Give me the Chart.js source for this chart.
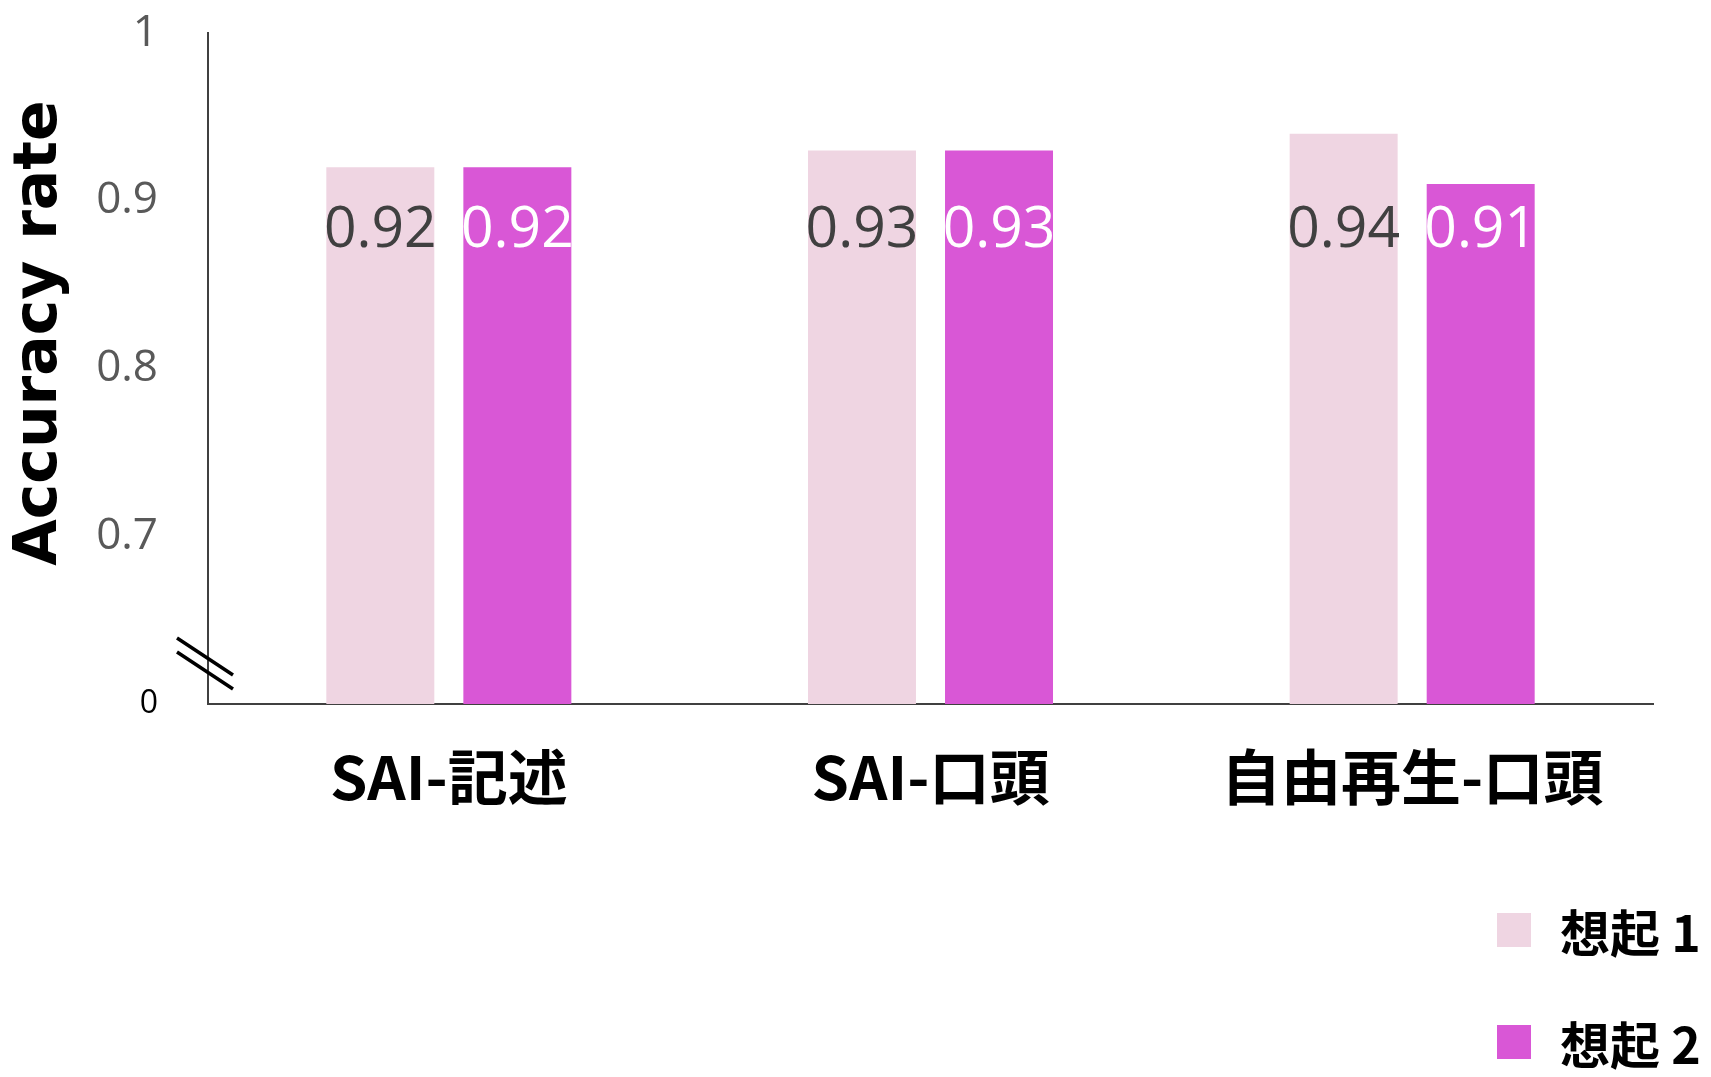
<!DOCTYPE html>
<html>
<head>
<meta charset="utf-8">
<script src="https://cdn.jsdelivr.net/npm/chart.js@4.4.0/dist/chart.umd.min.js"></script>
<style>
  body { margin: 0; background: #fff; }
  #wrap { position: relative; width: 1711px; height: 1077px; }
  #legend { position: absolute; left: 1497px; top: 900px; font: bold 50px "Noto Sans CJK JP"; color: #000; }
  .item { display: flex; align-items: center; height: 60px; margin-bottom: 52px; white-space: nowrap; }
  .box { width: 34px; height: 34px; margin-right: 29px; }
</style>
</head>
<body>
<div id="wrap">
  <canvas id="chart" width="1711" height="1077"></canvas>
  <div id="legend"></div>
</div>
<script>
const categories = ["SAI-記述", "SAI-口頭", "自由再生-口頭"];
const seriesNames = ["想起 1", "想起 2"];
const recall1 = [0.92, 0.93, 0.94];
const recall2 = [0.92, 0.93, 0.91];
const yTicks = [0.6, 0.7, 0.8, 0.9, 1];

const barColors = ["#EFD5E2", "#D957D6"];
const valueColors = ["#404040", "#ffffff"];
const valueLevel = 0.882; // value labels sit at about this height inside the bars

// axis break marks + rotated title
const extras = {
    id: "extras",
    afterDraw(chart) {
        const ctx = chart.ctx;
        const a = chart.chartArea;
        ctx.save();
        ctx.strokeStyle = "#000";
        ctx.lineWidth = 3.5;
        ctx.beginPath();
        ctx.moveTo(a.left - 31, a.bottom - 66);
        ctx.lineTo(a.left + 25, a.bottom - 29);
        ctx.moveTo(a.left - 31, a.bottom - 52);
        ctx.lineTo(a.left + 25, a.bottom - 15);
        ctx.stroke();

        ctx.translate(40, a.top + 300);
        ctx.rotate(-Math.PI / 2);
        ctx.fillStyle = "#000";
        ctx.font = "bold 60px 'DejaVu Sans'";
        ctx.textAlign = "center";
        ctx.textBaseline = "middle";
        ctx.fillText("Accuracy rate", 0, 0);
        ctx.restore();
    }
};

const valueLabels = {
    id: "valueLabels",
    afterDatasetsDraw(chart) {
        const ctx = chart.ctx;
        const y = chart.scales.y.getPixelForValue(valueLevel);
        ctx.save();
        ctx.font = "57px 'Open Sans'";
        ctx.textAlign = "center";
        ctx.textBaseline = "middle";
        chart.data.datasets.forEach(function (ds, i) {
            ctx.fillStyle = valueColors[i];
            chart.getDatasetMeta(i).data.forEach(function (bar, j) {
                ctx.fillText(ds.data[j].toFixed(2), bar.x, y);
            });
        });
        ctx.restore();
    }
};

function noPad(scale) {
    scale.paddingTop = 0;
    scale.paddingBottom = 0;
    scale.paddingLeft = 0;
    scale.paddingRight = 0;
}

let ctx = document.getElementById("chart").getContext("2d");
new Chart(ctx, {
    type: "bar",
    data: {
        labels: categories,
        datasets: [
            { label: seriesNames[0], data: recall1, backgroundColor: barColors[0] },
            { label: seriesNames[1], data: recall2, backgroundColor: barColors[1] }
        ]
    },
    options: {
        responsive: false,
        animation: false,
        layout: { padding: { top: 33, right: 58, left: 0, bottom: 0 } },
        datasets: { bar: { categoryPercentage: 0.569, barPercentage: 0.788 } },
        plugins: { legend: { display: false }, tooltip: { enabled: false } },
        scales: {
            x: {
                grid: { display: false, drawTicks: false },
                border: { display: true, color: "#404040", width: 2 },
                ticks: {
                    color: "#000",
                    padding: 37,
                    font: { family: "'Noto Sans CJK JP'", size: 60, weight: "bold" }
                },
                afterFit: function (scale) { scale.height = 373; noPad(scale); }
            },
            y: {
                min: 0.6,
                max: 1,
                grid: { display: false, drawTicks: false },
                border: { display: true, color: "#404040", width: 2 },
                afterBuildTicks: function (scale) {
                    scale.ticks = yTicks.map(function (v) { return { value: v }; });
                },
                ticks: {
                    padding: 50,
                    callback: function (v) { return v === yTicks[0] ? "0" : String(v); },
                    color: function (c) { return c.index === 0 ? "#000" : "#595959"; },
                    font: function (c) {
                        return c.index === 0
                            ? { family: "'Open Sans'", size: 32 }
                            : { family: "'Open Sans'", size: 44 };
                    }
                },
                afterFit: function (scale) { scale.width = 208; noPad(scale); }
            }
        }
    },
    plugins: [extras, valueLabels]
});

// legend, stacked at the lower right
let legend = document.getElementById("legend");
seriesNames.forEach(function (name, i) {
    let item = document.createElement("div");
    item.className = "item";
    let box = document.createElement("span");
    box.className = "box";
    box.style.background = barColors[i];
    item.appendChild(box);
    item.appendChild(document.createTextNode(name));
    legend.appendChild(item);
});
</script>
</body>
</html>
